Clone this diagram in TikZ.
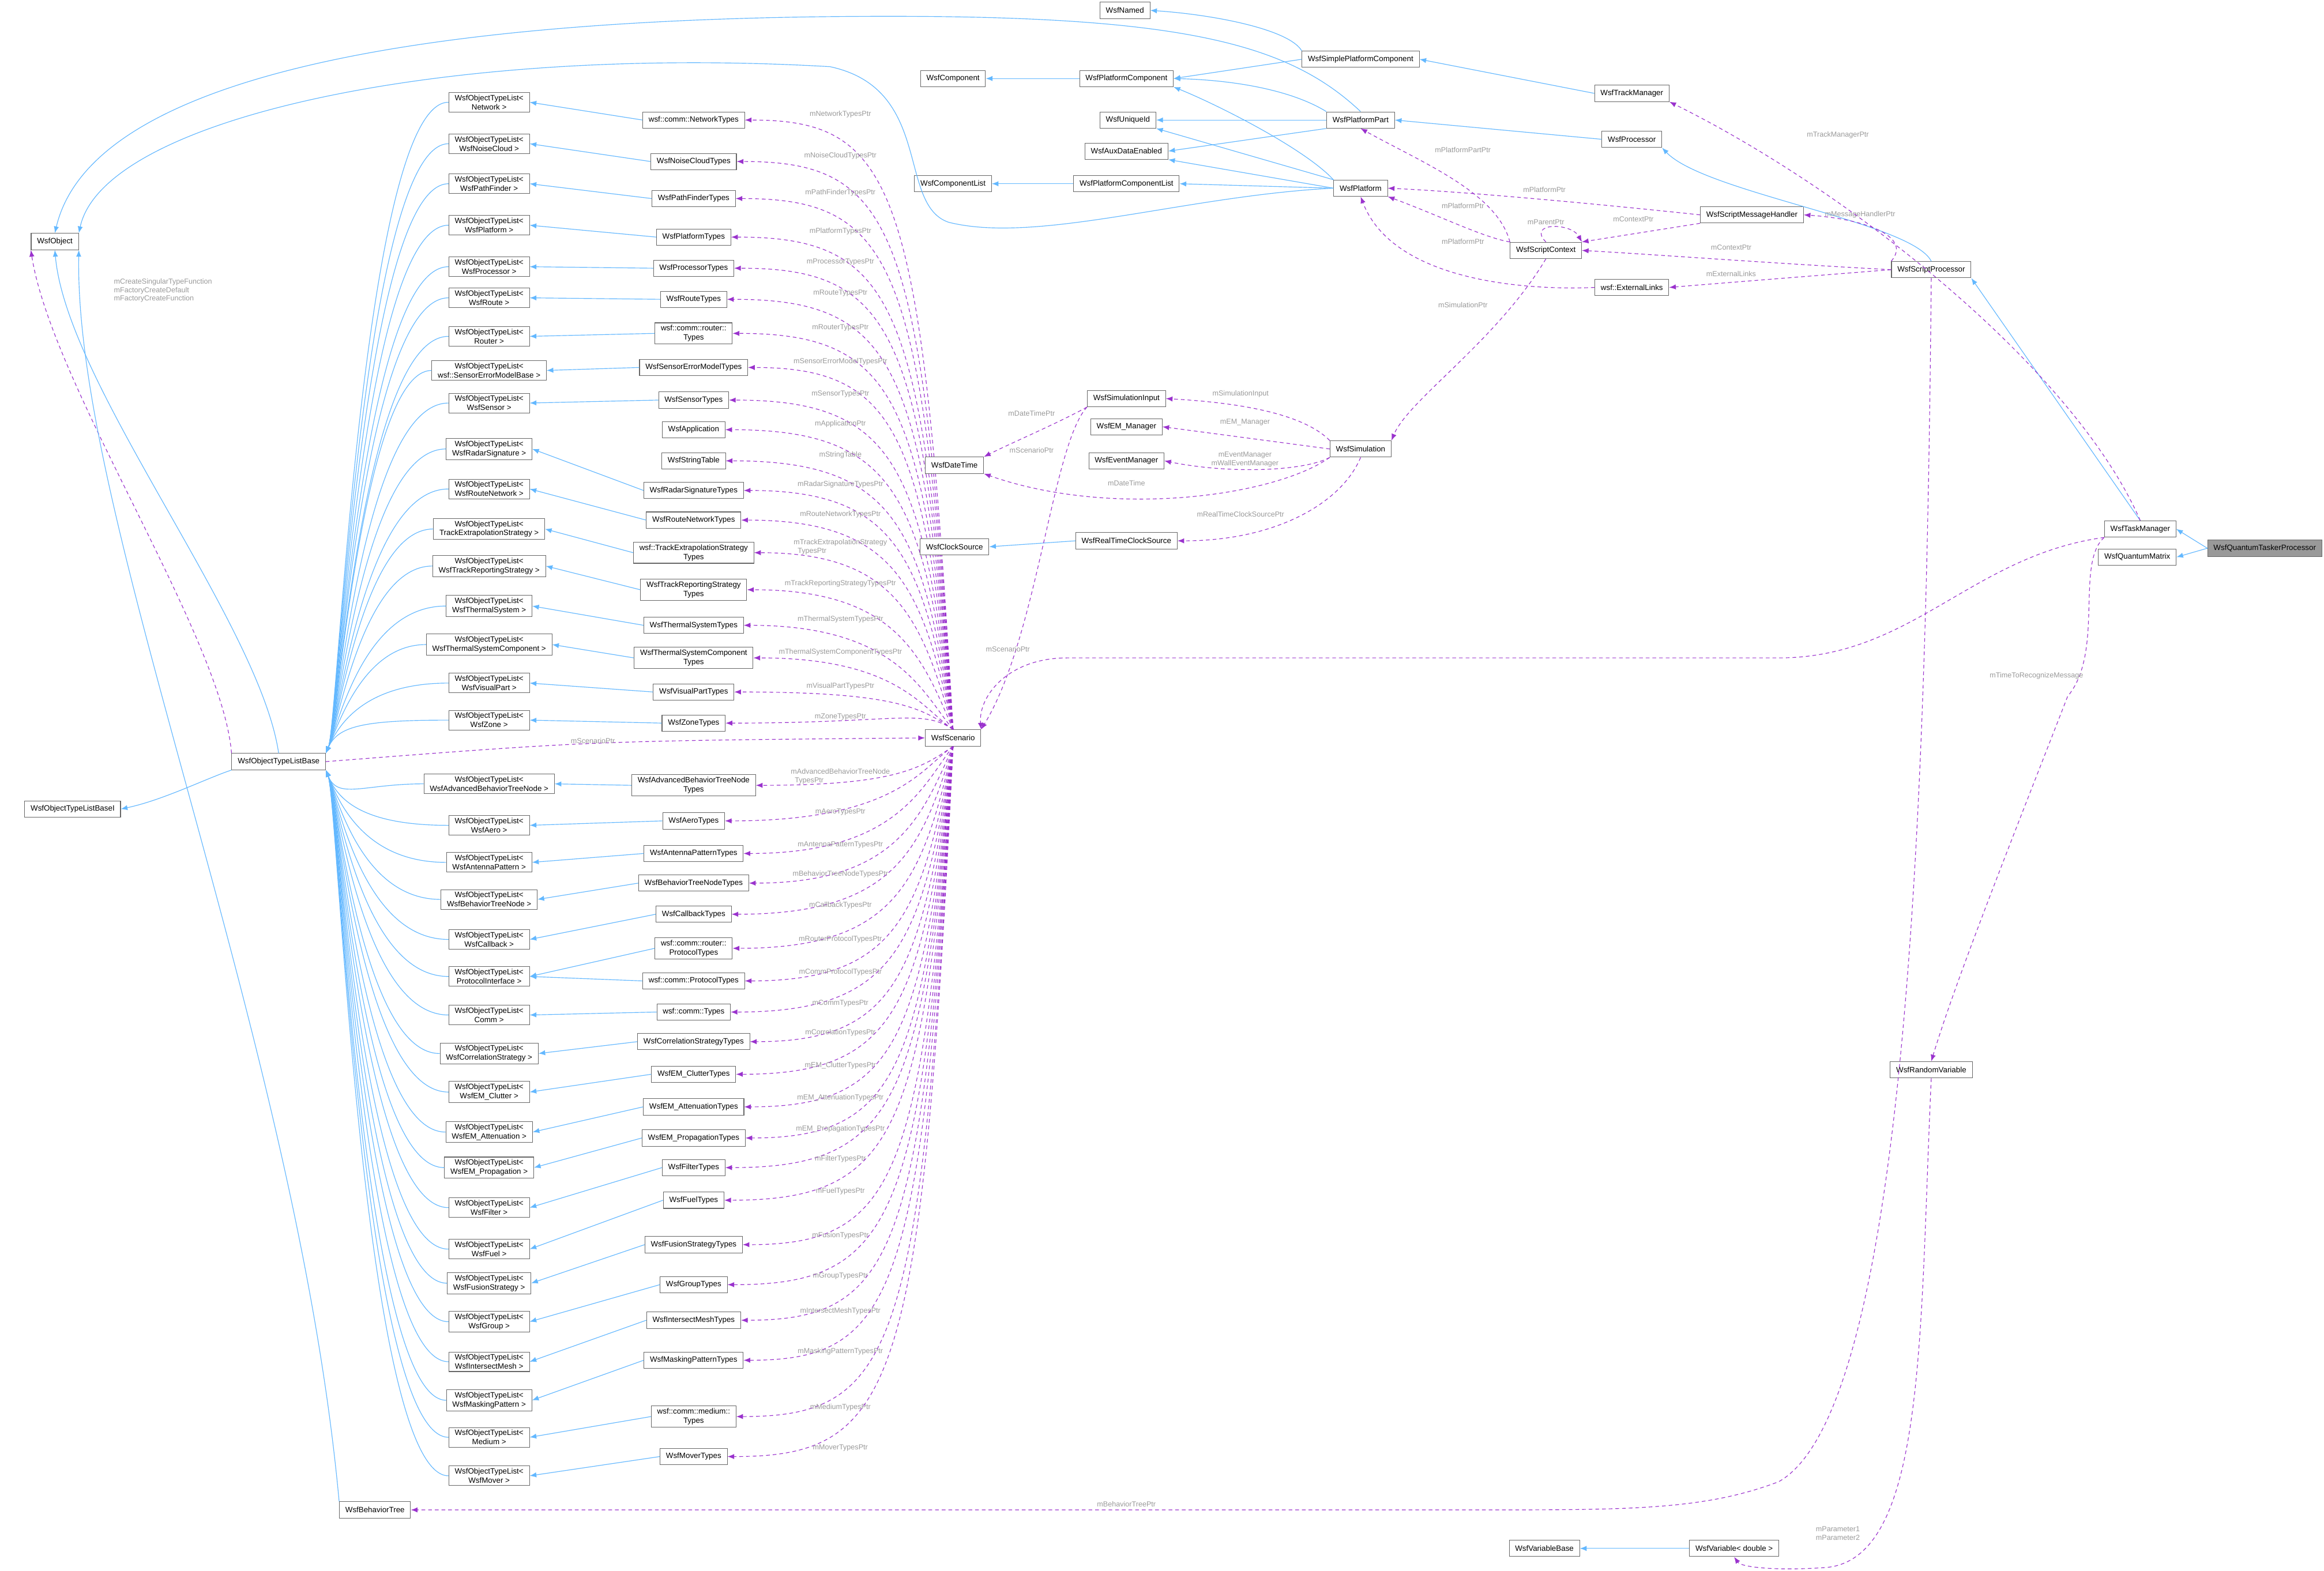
\documentclass[tikz,border=0pt]{standalone}
\usepackage{fontspec}
\setmainfont{Liberation Sans}
\usetikzlibrary{arrows.meta}
\definecolor{inhc}{HTML}{63B8FF}
\definecolor{depc}{HTML}{9A32CD}
\definecolor{lblc}{HTML}{9A9A9A}
\definecolor{boxc}{HTML}{666666}
\begin{document}
\begin{tikzpicture}[x=1pt,y=-1pt,
 box/.style={draw=boxc,fill=white,font=\fontsize{5.2}{6.2}\selectfont,align=center,inner xsep=4pt,inner ysep=1.6pt,minimum height=11pt,line width=0.4pt},
 inh/.style={draw=inhc,line width=0.45pt,-{Latex[length=4.5pt,width=3.5pt]}},
 dep/.style={draw=depc,line width=0.45pt,dash pattern=on 2.5pt off 2pt,-{Latex[length=4.5pt,width=3.5pt]}},
 lbl/.style={font=\fontsize{4.9}{5.8}\selectfont,text=lblc,align=left,inner sep=0.5pt}]
\useasboundingbox (0,0) rectangle (1568,1060);
\fill[white] (0,0) rectangle (1568,1060);
% ---------- left side
\node[box] (obj) at (37,163) {WsfObject};
\node[box] (base) at (188,514) {WsfObjectTypeListBase};
\node[box] (basei) at (49,546) {WsfObjectTypeListBaseI};
\node[box] (bt) at (253,1019) {WsfBehaviorTree};
\node[box] (sc) at (643,498) {WsfScenario};
\foreach \i/\y/\t in {1/69/Network >,2/97/WsfNoiseCloud >,3/124/WsfPathFinder >,4/152/WsfPlatform >,5/180/WsfProcessor >,6/201/WsfRoute >,7/227/Router >,8/250/wsf::SensorErrorModelBase >,9/272/WsfSensor >,10/303/WsfRadarSignature >,11/330/WsfRouteNetwork >,12/357/TrackExtrapolationStrategy >,13/382/WsfTrackReportingStrategy >,14/409/WsfThermalSystem >,15/435/WsfThermalSystemComponent >,16/461/WsfVisualPart >,17/486/WsfZone >,18/529/WsfAdvancedBehaviorTreeNode >,19/557/WsfAero >,20/582/WsfAntennaPattern >,21/607/WsfBehaviorTreeNode >,22/634/WsfCallback >,23/659/ProtocolInterface >,24/685/Comm >,25/711/WsfCorrelationStrategy >,26/737/WsfEM\_Clutter >,27/764/WsfEM\_Attenuation >,28/788/WsfEM\_Propagation >,29/815/WsfFilter >,30/843/WsfFuel >,31/866/WsfFusionStrategy >,32/892/WsfGroup >,33/919/WsfIntersectMesh >,34/945/WsfMaskingPattern >,35/970/Medium >,36/996/WsfMover >}
 {\node[box] (L\i) at (330,\y) {WsfObjectTypeList<\\\t};}
\foreach \i/\y/\t in {1/81/wsf::comm::NetworkTypes,2/109/WsfNoiseCloudTypes,3/134/WsfPathFinderTypes,4/160/WsfPlatformTypes,5/181/WsfProcessorTypes,6/202/WsfRouteTypes,7/225/wsf::comm::router::\\Types,8/248/WsfSensorErrorModelTypes,9/270/WsfSensorTypes,10/290/WsfApplication,11/311/WsfStringTable,12/331/WsfRadarSignatureTypes,13/351/WsfRouteNetworkTypes,14/373/wsf::TrackExtrapolationStrategy\\Types,15/398/WsfTrackReportingStrategy\\Types,16/422/WsfThermalSystemTypes,17/444/WsfThermalSystemComponent\\Types,18/467/WsfVisualPartTypes,19/488/WsfZoneTypes,20/530/WsfAdvancedBehaviorTreeNode\\Types,21/554/WsfAeroTypes,22/576/WsfAntennaPatternTypes,23/596/WsfBehaviorTreeNodeTypes,24/617/WsfCallbackTypes,25/640/wsf::comm::router::\\ProtocolTypes,26/662/wsf::comm::ProtocolTypes,27/683/wsf::comm::Types,28/703/WsfCorrelationStrategyTypes,29/725/WsfEM\_ClutterTypes,30/747/WsfEM\_AttenuationTypes,31/768/WsfEM\_PropagationTypes,32/788/WsfFilterTypes,33/810/WsfFuelTypes,34/840/WsfFusionStrategyTypes,35/867/WsfGroupTypes,36/891/WsfIntersectMeshTypes,37/918/WsfMaskingPatternTypes,38/956/wsf::comm::medium::\\Types,39/983/WsfMoverTypes}
 {\node[box] (T\i) at (468,\y) {\t};}
% type -> list
\foreach \t/\l in {1/1,2/2,3/3,4/4,5/5,6/6,7/7,8/8,9/9,12/10,13/11,14/12,15/13,16/14,17/15,18/16,19/17,20/18,21/19,22/20,23/21,24/22,25/23,26/23,27/24,28/25,29/26,30/27,31/28,32/29,33/30,34/31,35/32,36/33,37/34,38/35,39/36}
 {\draw[inh] (T\t.west) -- (L\l.east);}
% list -> base
\foreach \i/\y in {1/69,2/97,3/124,4/152,5/180,6/201,7/227,8/250,9/272,10/303,11/330,12/357,13/382,14/409,15/435,16/461,17/486}
 {\draw[inh] (L\i.west) .. controls (245,\y) and (228,490) .. (base.north east);}
\foreach \i/\y in {18/529,19/557,20/582,21/607,22/634,23/659,24/685,25/711,26/737,27/764,28/788,29/815,30/843,31/866,32/892,33/919,34/945,35/970,36/996}
 {\draw[inh] (L\i.west) .. controls (245,\y) and (228,540) .. (base.south east);}
% scenario -> types
\foreach \i/\y/\m in {1/81/mNetworkTypesPtr,2/109/mNoiseCloudTypesPtr,3/134/mPathFinderTypesPtr,4/160/mPlatformTypesPtr,5/181/mProcessorTypesPtr,6/202/mRouteTypesPtr,7/225/mRouterTypesPtr,8/248/mSensorErrorModelTypesPtr,9/270/mSensorTypesPtr,10/290/mApplicationPtr,11/311/mStringTable,12/331/mRadarSignatureTypesPtr,13/351/mRouteNetworkTypesPtr,14/373/mTrackExtrapolationStrategy\\\ \ TypesPtr,15/398/mTrackReportingStrategyTypesPtr,16/422/mThermalSystemTypesPtr,17/444/mThermalSystemComponentTypesPtr,18/467/mVisualPartTypesPtr,19/488/mZoneTypesPtr}
 {\pgfmathsetmacro\cy{min(\y+45,478)}
  \draw[dep] (sc.north) .. controls (622,\cy) and (605,\y) .. (T\i.east);
  \node[lbl] at (567,\y-4) {\m};}
\foreach \i/\y/\m in {20/530/mAdvancedBehaviorTreeNode\\\ \ TypesPtr,21/554/mAeroTypesPtr,22/576/mAntennaPatternTypesPtr,23/596/mBehaviorTreeNodeTypesPtr,24/617/mCallbackTypesPtr,25/640/mRouterProtocolTypesPtr,26/662/mCommProtocolTypesPtr,27/683/mCommTypesPtr,28/703/mCorrelationTypesPtr,29/725/mEM\_ClutterTypesPtr,30/747/mEM\_AttenuationTypesPtr,31/768/mEM\_PropagationTypesPtr,32/788/mFilterTypesPtr,33/810/mFuelTypesPtr,34/840/mFusionTypesPtr,35/867/mGroupTypesPtr,36/891/mIntersectMeshTypesPtr,37/918/mMaskingPatternTypesPtr,38/956/mMediumTypesPtr,39/983/mMoverTypesPtr}
 {\pgfmathsetmacro\cy{max(\y-45,518)}
  \draw[dep] (sc.south) .. controls (622,\cy) and (605,\y) .. (T\i.east);
  \node[lbl] at (567,\y-6) {\m};}
% base relations
\draw[inh] (base.north) .. controls (175,420) and (45,260) .. (obj.south);
\draw[dep] (base.north west) .. controls (150,430) and (35,260) .. (obj.south west);
\node[lbl] at (110,196) {mCreateSingularTypeFunction\\mFactoryCreateDefault\\mFactoryCreateFunction};
\draw[inh] (base.south west) .. controls (140,525) and (110,540) .. (basei.east);
\draw[inh] (bt.north west) .. controls (200,700) and (50,350) .. (obj.south east);
\draw[dep] (base.east) .. controls (400,500) .. (sc.west);
\node[lbl] at (400,500) {mScenarioPtr};
% ---------- top cluster
\node[box] (named) at (759,7) {WsfNamed};
\node[box] (spc) at (918,40) {WsfSimplePlatformComponent};
\node[box] (comp) at (643,53) {WsfComponent};
\node[box] (pcomp) at (760,53) {WsfPlatformComponent};
\node[box] (tm) at (1101,63) {WsfTrackManager};
\node[box] (pp) at (918,81) {WsfPlatformPart};
\node[box] (uid) at (761,81) {WsfUniqueId};
\node[box] (aux) at (760,102) {WsfAuxDataEnabled};
\node[box] (proc) at (1101,94) {WsfProcessor};
\node[box] (clist) at (643,124) {WsfComponentList};
\node[box] (pclist) at (760,124) {WsfPlatformComponentList};
\node[box] (pf) at (918,127) {WsfPlatform};
\node[box] (smh) at (1182,145) {WsfScriptMessageHandler};
\node[box] (ctx) at (1043,169) {WsfScriptContext};
\node[box] (el) at (1101,194) {wsf::ExternalLinks};
\node[box] (sp) at (1303,182) {WsfScriptProcessor};
\node[box] (si) at (760,269) {WsfSimulationInput};
\node[box] (emm) at (760,288) {WsfEM\_Manager};
\node[box] (evm) at (760,311) {WsfEventManager};
\node[box] (dt) at (644,314) {WsfDateTime};
\node[box] (sim) at (918,303) {WsfSimulation};
\node[box] (cs) at (644,369) {WsfClockSource};
\node[box] (rtc) at (760,365) {WsfRealTimeClockSource};
\node[box] (task) at (1444,357) {WsfTaskManager};
\node[box,fill=black!40] (qtp) at (1528,370) {WsfQuantumTaskerProcessor};
\node[box] (qm) at (1442,376) {WsfQuantumMatrix};
\node[box] (rv) at (1303,722) {WsfRandomVariable};
\node[box] (vb) at (1042,1045) {WsfVariableBase};
\node[box] (vd) at (1170,1045) {WsfVariable< double >};
% inheritance
\draw[inh] (spc.north west) .. controls (870,20) and (820,10) .. (named.east);
\draw[inh] (spc.west) -- (pcomp.east);
\draw[inh] (pcomp.west) -- (comp.east);
\draw[inh] (pp.north west) .. controls (870,60) and (830,54) .. (pcomp.east);
\draw[inh] (pp.west) -- (uid.east);
\draw[inh] (pp.south west) -- (aux.east);
\draw[inh] (pp.north) .. controls (870,30) and (800,11) .. (600,11) .. controls (250,11) and (60,60) .. (obj.north);
\draw[inh] (pf.north west) .. controls (880,100) and (820,70) .. (pcomp.south east);
\draw[inh] (pf.north west) -- (uid.south east);
\draw[inh] (pf.west) -- (aux.south east);
\draw[inh] (pf.west) -- (pclist.east);
\draw[inh] (pclist.west) -- (clist.east);
\draw[inh] (pf.west) .. controls (800,132) and (700,165) .. (640,150) .. controls (605,138) and (630,60) .. (560,45) .. controls (300,30) and (70,80) .. (obj.north east);
\draw[inh] (tm.west) -- (spc.east);
\draw[inh] (proc.west) -- (pp.east);
\draw[inh] (sp.north) .. controls (1290,150) and (1150,130) .. (proc.south east);
\draw[inh] (task.north) -- (sp.south east);
\draw[inh] (qtp.west) -- (task.east);
\draw[inh] (qtp.west) -- (qm.east);
\draw[inh] (rtc.west) -- (cs.east);
\draw[inh] (vd.west) -- (vb.east);
% dependencies
\draw[dep] (ctx.north west) .. controls (1010,130) and (960,110) .. (pp.south);
\node[lbl] at (987,101) {mPlatformPartPtr};
\draw[dep] (ctx.north west) .. controls (1000,160) and (970,145) .. (pf.south east);
\node[lbl] at (987,139) {mPlatformPtr};
\draw[dep] (ctx.north) .. controls (1030,150) and (1060,150) .. (ctx.north east);
\node[lbl] at (1043,150) {mParentPtr};
\draw[dep] (smh.west) .. controls (1100,140) and (1000,130) .. (pf.east);
\node[lbl] at (1042,128) {mPlatformPtr};
\draw[dep] (smh.south west) -- (ctx.north east);
\node[lbl] at (1102,148) {mContextPtr};
\draw[dep] (el.west) .. controls (1030,196) and (940,190) .. (pf.south);
\node[lbl] at (987,163) {mPlatformPtr};
\draw[dep] (sp.west) .. controls (1200,178) and (1120,172) .. (ctx.east);
\node[lbl] at (1168,167) {mContextPtr};
\draw[dep] (sp.west) .. controls (1200,188) and (1150,192) .. (el.east);
\node[lbl] at (1168,185) {mExternalLinks};
\draw[dep] (sp.north west) .. controls (1290,160) and (1260,148) .. (smh.east);
\node[lbl] at (1255,145) {mMessageHandlerPtr};
\draw[dep] (ctx.south) .. controls (1010,230) and (950,270) .. (sim.north east);
\node[lbl] at (987,206) {mSimulationPtr};
\draw[dep] (sim.north west) .. controls (880,280) and (840,272) .. (si.east);
\node[lbl] at (837,266) {mSimulationInput};
\draw[dep] (sim.west) -- (emm.east);
\node[lbl] at (840,285) {mEM\_Manager};
\draw[dep] (sim.south west) .. controls (880,318) and (830,320) .. (evm.east);
\node[lbl,align=center] at (840,310) {mEventManager\\mWallEventManager};
\draw[dep] (sim.south west) .. controls (860,335) and (750,350) .. (dt.south east);
\node[lbl] at (760,326) {mDateTime};
\draw[dep] (sim.south) .. controls (905,340) and (860,365) .. (rtc.east);
\node[lbl] at (837,347) {mRealTimeClockSourcePtr};
\draw[dep] (si.south west) .. controls (715,285) and (680,300) .. (dt.north east);
\node[lbl] at (696,279) {mDateTimePtr};
\draw[dep] (si.south west) .. controls (710,300) and (700,430) .. (sc.north east);
\node[lbl] at (696,304) {mScenarioPtr};
\draw[dep] (task.north) .. controls (1400,250) and (1250,130) .. (tm.south east);
\node[lbl] at (1240,91) {mTrackManagerPtr};
\draw[dep] (task.south west) .. controls (1330,375) and (1290,444) .. (1200,444) -- (720,444) .. controls (680,444) and (660,470) .. (sc.north east);
\node[lbl] at (680,438) {mScenarioPtr};
\draw[dep] (task.south west) .. controls (1400,380) and (1420,440) .. (1395,470) .. controls (1360,560) and (1320,660) .. (rv.north);
\node[lbl] at (1374,456) {mTimeToRecognizeMessage};
\draw[dep] (rv.south) .. controls (1295,900) and (1300,1055) .. (1230,1058) .. controls (1200,1060) and (1175,1058) .. (vd.south);
\node[lbl] at (1240,1035) {mParameter1\\mParameter2};
\draw[dep] (sp.south) .. controls (1300,500) and (1290,950) .. (1200,1000) .. controls (1150,1019) and (1100,1019) .. (1000,1019) -- (bt.east);
\node[lbl] at (760,1015) {mBehaviorTreePtr};
\end{tikzpicture}
\end{document}
